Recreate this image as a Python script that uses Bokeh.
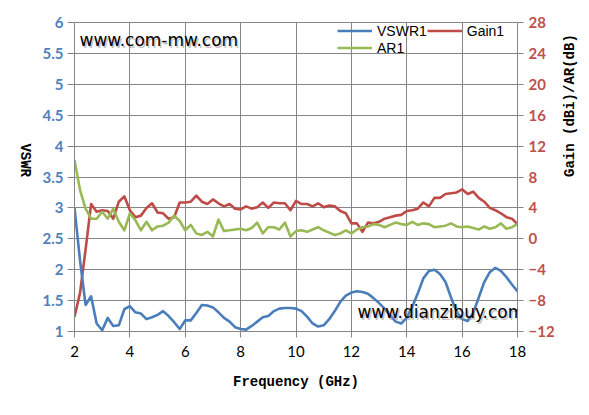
from bokeh.plotting import figure
from bokeh.models import (Range1d, LinearAxis, FixedTicker, Legend, LegendItem,
                          Label, CustomJSTickFormatter)
from bokeh.embed import file_html
from bokeh.resources import INLINE

freq = [2.0, 2.2, 2.4, 2.6, 2.8, 3.0, 3.2, 3.4, 3.6, 3.8,
        4.0, 4.2, 4.4, 4.6, 4.8, 5.0, 5.2, 5.4, 5.6, 5.8,
        6.0, 6.2, 6.4, 6.6, 6.8, 7.0, 7.2, 7.4, 7.6, 7.8,
        8.0, 8.2, 8.4, 8.6, 8.8, 9.0, 9.2, 9.4, 9.6, 9.8,
        10.0, 10.2, 10.4, 10.6, 10.8, 11.0, 11.2, 11.4, 11.6, 11.8,
        12.0, 12.2, 12.4, 12.6, 12.8, 13.0, 13.2, 13.4, 13.6, 13.8,
        14.0, 14.2, 14.4, 14.6, 14.8, 15.0, 15.2, 15.4, 15.6, 15.8,
        16.0, 16.2, 16.4, 16.6, 16.8, 17.0, 17.2, 17.4, 17.6, 17.8,
        18.0]

vswr1 = [3.00, 2.15, 1.43, 1.57, 1.13, 1.02, 1.22, 1.09, 1.10, 1.36,
         1.41, 1.31, 1.29, 1.20, 1.23, 1.27, 1.33, 1.25, 1.15, 1.04,
         1.18, 1.18, 1.30, 1.43, 1.42, 1.39, 1.31, 1.22, 1.16, 1.07,
         1.04, 1.03, 1.09, 1.16, 1.23, 1.25, 1.33, 1.37, 1.38, 1.38,
         1.37, 1.33, 1.24, 1.13, 1.08, 1.10, 1.20, 1.33, 1.48, 1.58,
         1.63, 1.65, 1.64, 1.61, 1.54, 1.46, 1.37, 1.26, 1.16, 1.13,
         1.22, 1.40, 1.62, 1.86, 1.98, 2.00, 1.93, 1.80, 1.55, 1.32,
         1.20, 1.17, 1.30, 1.55, 1.80, 1.96, 2.03, 1.98, 1.88, 1.76,
         1.65]

gain1 = [-10.1, -7.0, -1.4, 4.5, 3.5, 3.7, 3.6, 2.6, 4.8, 5.5,
         3.7, 2.8, 3.0, 4.0, 4.6, 3.4, 3.3, 2.6, 2.8, 4.7,
         4.7, 4.8, 5.6, 4.8, 4.5, 5.1, 4.6, 4.2, 4.5, 3.9,
         3.8, 4.2, 3.9, 4.1, 4.7, 4.0, 4.7, 4.6, 4.6, 3.7,
         4.9, 4.5, 4.5, 4.2, 4.6, 4.1, 4.3, 4.2, 3.6, 3.3,
         2.0, 2.0, 0.9, 2.1, 2.0, 2.2, 2.6, 2.8, 3.0, 3.1,
         3.6, 3.7, 3.9, 4.7, 4.2, 5.3, 5.3, 5.8, 5.9, 6.0,
         6.4, 5.8, 6.1, 5.3, 4.8, 4.0, 3.7, 3.3, 2.8, 2.6,
         1.9]

ar1 = [10.2, 6.3, 3.9, 2.6, 2.6, 3.5, 2.6, 3.9, 2.2, 1.1,
       3.3, 2.4, 1.1, 2.2, 1.1, 1.6, 1.7, 2.1, 3.0, 2.3,
       1.1, 1.8, 0.7, 0.5, 0.9, 0.3, 2.5, 1.0, 1.1, 1.2,
       1.3, 1.1, 1.4, 2.1, 0.7, 1.5, 1.5, 1.2, 2.1, 0.3,
       1.0, 1.1, 0.9, 1.2, 1.5, 1.1, 0.8, 0.5, 0.7, 1.1,
       0.7, 1.2, 1.5, 1.6, 1.9, 1.8, 1.5, 1.8, 2.1, 1.9,
       1.8, 2.2, 1.8, 2.0, 1.9, 1.5, 1.6, 1.7, 2.0, 1.6,
       1.5, 1.6, 1.4, 1.2, 1.6, 1.3, 1.5, 2.0, 1.3, 1.5,
       1.9]

x_ticks = [2, 4, 6, 8, 10, 12, 14, 16, 18]
vswr_ticks = [1, 1.5, 2, 2.5, 3, 3.5, 4, 4.5, 5, 5.5, 6]
gain_ticks = [-12, -8, -4, 0, 4, 8, 12, 16, 20, 24, 28]

BLUE = "#4A7EBB"
RED = "#BE4B48"
GREEN = "#98B954"
GRID = "#868686"

p = figure(frame_width=443, frame_height=309, output_backend="svg",
           toolbar_location=None,
           x_range=Range1d(2, 18), y_range=Range1d(1, 6),
           min_border_left=74, min_border_right=40, min_border_top=22,
           min_border_bottom=70)
p.extra_y_ranges = {"gain": Range1d(-12, 28)}
p.outline_line_color = GRID
p.background_fill_color = "white"
p.border_fill_color = "white"

# grids
p.xgrid.ticker = FixedTicker(ticks=x_ticks)
p.ygrid.ticker = FixedTicker(ticks=vswr_ticks)
for g in (p.xgrid, p.ygrid):
    g.grid_line_color = GRID
    g.grid_line_width = 1

# bottom axis
xa = p.xaxis[0]
xa.ticker = FixedTicker(ticks=x_ticks)
xa.axis_label = "Frequency (GHz)"
xa.axis_label_text_font = "Liberation Mono"
xa.axis_label_text_font_style = "bold"
xa.axis_label_text_font_size = "14px"
xa.axis_label_text_color = "black"
xa.axis_label_standoff = 14
xa.major_label_text_font = "Lato"
xa.major_label_text_font_size = "15px"
xa.major_label_text_color = "black"
xa.major_label_standoff = 8
xa.axis_line_color = GRID
xa.major_tick_line_color = GRID
xa.major_tick_out = 6
xa.major_tick_in = 0
xa.minor_tick_line_color = None

# left axis
ya = p.yaxis[0]
ya.ticker = FixedTicker(ticks=vswr_ticks)
ya.formatter = CustomJSTickFormatter(code="return tick.toString();")
ya.axis_label = "VSWR"
ya.axis_label_text_font = "Liberation Mono"
ya.axis_label_text_font_style = "bold"
ya.axis_label_text_font_size = "14px"
ya.axis_label_text_color = "black"
ya.axis_label_standoff = 15
ya.major_label_text_font = "Lato"
ya.major_label_text_font_style = "bold"
ya.major_label_text_font_size = "15px"
ya.major_label_text_color = "#4F81BD"
ya.major_label_standoff = 4
ya.axis_line_color = GRID
ya.major_tick_line_color = GRID
ya.major_tick_out = 7
ya.major_tick_in = 0
ya.minor_tick_line_color = None
try:
    ya.axis_label_orientation = -1.5707963
except Exception:
    pass

# right axis
ra = LinearAxis(y_range_name="gain", ticker=FixedTicker(ticks=gain_ticks))
ra.axis_label = "Gain (dBi)/AR(dB)"
ra.axis_label_text_font = "Liberation Mono"
ra.axis_label_text_font_style = "bold"
ra.axis_label_text_font_size = "14px"
ra.axis_label_text_color = "black"
ra.axis_label_standoff = 12
ra.major_label_text_font = "Lato"
ra.major_label_text_font_style = "bold"
ra.major_label_text_font_size = "15px"
ra.major_label_text_color = "#C0504D"
ra.major_label_standoff = 5
ra.axis_line_color = GRID
ra.major_tick_line_color = GRID
ra.major_tick_out = 6
ra.major_tick_in = 0
ra.minor_tick_line_color = None
try:
    ra.axis_label_orientation = 1.5707963
except Exception:
    pass
p.add_layout(ra, "right")

# series
r_g = p.line(freq, gain1, color=RED, line_width=2.6, line_join="round",
             y_range_name="gain")
r_a = p.line(freq, ar1, color=GREEN, line_width=2.6, line_join="round",
             y_range_name="gain")
r_v = p.line(freq, vswr1, color=BLUE, line_width=2.6, line_join="round")

legend = Legend(items=[LegendItem(label="VSWR1", renderers=[r_v]),
                       LegendItem(label="Gain1", renderers=[r_g]),
                       LegendItem(label="AR1", renderers=[r_a])],
                orientation="horizontal", ncols=2,
                location=(263, 275))
legend.label_text_font = "Liberation Sans"
legend.label_text_font_size = "14px"
legend.label_text_color = "black"
legend.glyph_width = 35
legend.glyph_height = 17
legend.label_height = 17
legend.label_standoff = 5
legend.spacing = 0
legend.padding = 0
legend.margin = 0
legend.background_fill_alpha = 0
legend.border_line_alpha = 0
legend.label_text_baseline = "middle"
p.add_layout(legend)

# watermark texts
for txt, fx, fy in (("www.com-mw.com", 2.18, 5.71),
                    ("www.dianzibuy.com", 12.22, 1.315)):
    p.add_layout(Label(x=fx, y=fy, text=txt, text_font="DejaVu Sans",
                       text_font_size="17px", text_color="#9a9a9a",
                       text_alpha=0.6, text_baseline="middle",
                       x_offset=1.5, y_offset=-1.5))
    p.add_layout(Label(x=fx, y=fy, text=txt, text_font="DejaVu Sans",
                       text_font_size="17px", text_color="black",
                       text_baseline="middle"))

open("out.html", "w").write(file_html(p, INLINE))
